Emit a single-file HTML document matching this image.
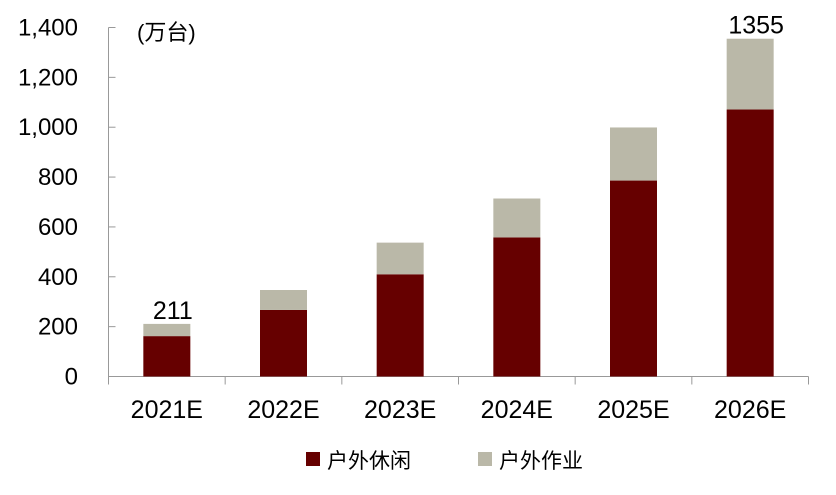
<!DOCTYPE html>
<html><head><meta charset="utf-8"><style>
body{margin:0;background:#fff;}
svg text{font-family:"Liberation Sans","Noto Sans CJK SC",sans-serif;fill:#000;}
</style></head><body>
<svg id="chart" width="836" height="490" xmlns="http://www.w3.org/2000/svg">
<g id="axes"></g><g id="bars"></g>
<text x="137" y="40" font-size="22">(万台)</text>
<g>
<rect x="306" y="452" width="14" height="14" fill="#660000"/>
<text x="327" y="468" font-size="21">户外休闲</text>
<rect x="478" y="452" width="14" height="14" fill="#BAB8A8"/>
<text x="499" y="468" font-size="21">户外作业</text>
</g>
</svg>
<script>
const categories=["2021E","2022E","2023E","2024E","2025E","2026E"];
const leisure=[162,267,410,558,786,1071];
const work=[49,80,127,156,213,284];
const totalLabels=["211","","","","","1355"];
const yTicks=[0,200,400,600,800,1000,1200,1400];
const yTickLabels=["0","200","400","600","800","1,000","1,200","1,400"];
const NS="http://www.w3.org/2000/svg";
const x0=108.5,x1=808.5,y0=376.5,y1=27.5,yMax=1400;
const bw=(x1-x0)/categories.length;
const yS=v=>y0-(y0-y1)*v/yMax;
const xC=i=>x0+bw*(i+0.5);
function mk(t,a,p){const e=document.createElementNS(NS,t);for(const k in a)e.setAttribute(k,a[k]);p.appendChild(e);return e;}
const ax=document.getElementById('axes'),bars=document.getElementById('bars');
let l=mk('line',{x1:x0,y1:y1,x2:x0,y2:y0,stroke:'#999','stroke-width':1},ax);


l=mk('line',{x1:x0,y1:y0,x2:x1,y2:y0,stroke:'#999','stroke-width':1},ax);


yTicks.forEach((v,i)=>{
 const y=yS(v);
 const t=mk('line',{x1:x0,y1:y,x2:x0+7,y2:y,stroke:'#999'},ax);
 
 
 const tx=mk('text',{x:78,y:y+8,'font-size':24,'text-anchor':'end'},ax);
 tx.textContent=yTickLabels[i];
 
 
});
for(let i=0;i<=categories.length;i++){
 const x=x0+bw*i;
 const t=mk('line',{x1:x,y1:y0,x2:x,y2:y0+8,stroke:'#999'},ax);
 
 
}
categories.forEach((c,i)=>{
 const cx=xC(i),w=47;
 const tx=mk('text',{x:cx,y:418,'font-size':25,'text-anchor':'middle'},ax);
 tx.textContent=c;
 
 
 const r1=mk('rect',{x:cx-w/2,y:yS(leisure[i]),width:w,height:y0-yS(leisure[i]),fill:'#660000'},bars);
 
 
 const top=leisure[i]+work[i];
 const r2=mk('rect',{x:cx-w/2,y:yS(top),width:w,height:yS(leisure[i])-yS(top),fill:'#BAB8A8'},bars);
 
 
 if(totalLabels[i]){
  const lb=mk('text',{x:cx+6,y:yS(top)-5,'font-size':25,'text-anchor':'middle'},bars);
  lb.textContent=totalLabels[i];
  
  
 }
});
</script>
</body></html>
